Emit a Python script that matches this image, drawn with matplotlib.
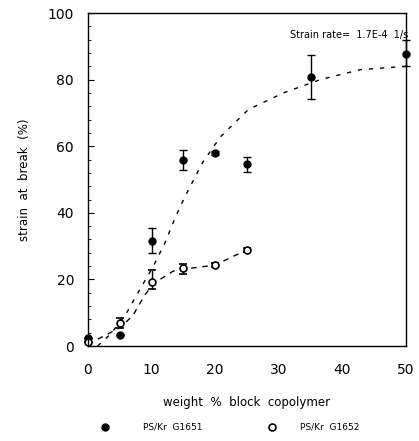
import numpy as np
import matplotlib
matplotlib.use('Agg')
from matplotlib import pyplot as plt
from matplotlib.lines import Line2D

# %% data

# PS/Kr G1651 (filled)
x_g1651 = [0, 5, 10, 15, 20, 25, 35, 50]
y_g1651 = [2.5, 3.3, 31.5, 55.8, 58.0, 54.6, 80.8, 87.7]
err_lo_g1651 = [0, 0, 3.5, 2.8, 0.6, 2.4, 6.6, 3.6]
err_hi_g1651 = [0, 0, 3.9, 3.0, 0.6, 2.1, 6.6, 4.3]

# PS/Kr G1652 (open)
x_g1652 = [0, 5, 10, 15, 20, 25]
y_g1652 = [1.2, 7.0, 19.2, 23.4, 24.3, 28.8]
err_lo_g1652 = [0, 1.5, 2.0, 1.8, 0.6, 0.5]
err_hi_g1652 = [0, 1.5, 3.6, 1.2, 0.6, 0.5]

# fitted curves
fit_x_g1651 = [1.5, 3.5, 5.8, 7.7, 10.2, 12.1, 13.7, 15.2, 18.0, 20.8, 25.2, 30.7, 36.5, 42.8, 50.0]
fit_y_g1651 = [0.0, 3.5, 9.0, 15.5, 23.7, 31.0, 38.5, 44.7, 55.0, 62.8, 71.0, 76.0, 80.0, 83.0, 84.0]

fit_x_g1652 = [0, 2.0, 5.0, 7.0, 9.0, 10.5, 13.4, 16.3, 20.0, 22.9, 25.0]
fit_y_g1652 = [0.5, 2.5, 5.5, 9.0, 15.5, 19.0, 22.5, 23.4, 24.3, 27.0, 28.8]

xticks = [0, 10, 20, 30, 40, 50]
yticks = [0, 20, 40, 60, 80, 100]

# %% plot

plt.rc('font', family='DejaVu Sans')

fig = plt.figure(figsize=(4.19, 4.41), dpi=100)
ax = fig.add_axes([0.21, 0.2154, 0.759, 0.755])

ax.plot(fit_x_g1651, fit_y_g1651, color='black', ls=(0, (3, 5)), lw=1.0)
ax.plot(fit_x_g1652, fit_y_g1652, color='black', ls=(0, (4, 4)), lw=1.0)

ax.errorbar(x_g1651, y_g1651, yerr=[err_lo_g1651, err_hi_g1651], fmt='o',
            color='black', ms=5, capsize=3, elinewidth=1, clip_on=False)
ax.errorbar(x_g1652, y_g1652, yerr=[err_lo_g1652, err_hi_g1652], fmt='o',
            color='black', mfc='white', ms=5, mew=1.2, capsize=3,
            elinewidth=1, clip_on=False)

ax.text(50.3, 93.5, 'Strain rate=  1.7E-4  1/s', fontsize=7, ha='right', va='center')

ax.set_xlim(0, 50)
ax.set_ylim(0, 100)
ax.set_xticks(xticks)
ax.set_yticks(yticks)
ax.set_yticks(np.arange(0, 101, 4), minor=True)
ax.tick_params(axis='x', length=0, pad=12, labelsize=10)
ax.tick_params(axis='y', which='major', direction='in', length=4, pad=10, labelsize=10)
ax.tick_params(axis='y', which='minor', direction='in', length=2)
for s in ax.spines.values():
    s.set_linewidth(1.0)

ax.set_xlabel('weight  %  block  copolymer', fontsize=8.5, labelpad=14)
ax.set_ylabel('strain  at  break  (%)', fontsize=8.5, labelpad=12)

# legend below the axes
leg_y = 1 - 427 / 441
fig.add_artist(Line2D([105 / 419], [leg_y], marker='o', color='black', ls='none',
                      ms=5, transform=fig.transFigure))
fig.add_artist(Line2D([272 / 419], [leg_y], marker='o', color='black', mfc='white',
                      ls='none', ms=5, mew=1.2, transform=fig.transFigure))
fig.text(143 / 419, leg_y, 'PS/Kr  G1651', fontsize=6.5, va='center')
fig.text(300 / 419, leg_y, 'PS/Kr  G1652', fontsize=6.5, va='center')

fig.savefig('out.png', dpi=100)
